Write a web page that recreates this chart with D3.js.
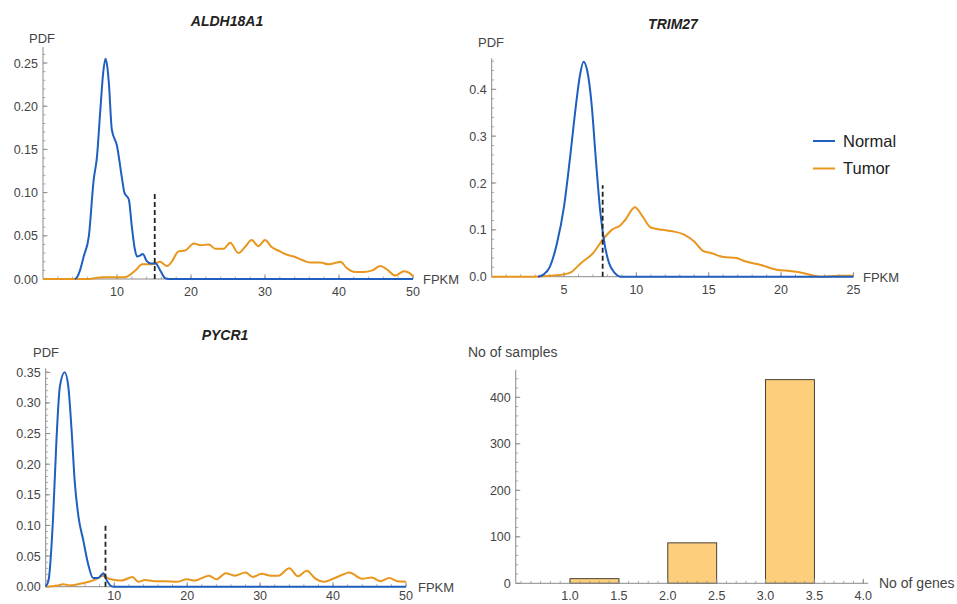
<!DOCTYPE html>
<html><head><meta charset="utf-8">
<script src="https://cdn.jsdelivr.net/npm/d3@7"></script>
<style>body{margin:0;background:#fff}svg{display:block}text{font-family:"Liberation Sans",Arial,sans-serif}</style>
</head><body><svg id="c" width="957" height="604"></svg>
<script>
// ---------- data ----------
const seriesNames = ["Normal", "Tumor"];
const geneTitles = ["ALDH18A1", "TRIM27", "PYCR1"];

const aldhNormal = [[4.3,0],[4.6,0.002],[5.0,0.01],[5.5,0.026],[6.2,0.05],[6.85,0.115],[7.3,0.142],[7.75,0.196],[8.15,0.24],[8.45,0.255],[8.7,0.245],[8.9,0.227],[9.3,0.173],[10,0.154],[10.7,0.115],[11,0.1],[11.6,0.092],[12,0.061],[12.4,0.035],[12.7,0.026],[13.1,0.027],[13.5,0.029],[14,0.021],[14.6,0.018],[15.2,0.018],[15.9,0.009],[16.5,0.001],[17,0],[50,0]];
const aldhTumor = [[0,0],[6,0],[7,0.001],[8,0.002],[10,0.002],[11,0.002],[11.6,0.004],[12.5,0.01],[13.4,0.017],[14.3,0.017],[15.2,0.018],[15.8,0.02],[16.8,0.015],[17.4,0.02],[18.3,0.032],[19.2,0.033],[20.4,0.041],[21.3,0.039],[22.4,0.04],[23.3,0.035],[24.4,0.035],[25.3,0.042],[26.4,0.03],[27.3,0.037],[28.2,0.045],[29.1,0.038],[30,0.045],[30.9,0.037],[32,0.032],[33,0.028],[33.9,0.026],[35,0.022],[36.1,0.019],[37.5,0.019],[38.6,0.017],[39.7,0.019],[40.2,0.02],[41,0.013],[42.2,0.008],[43.3,0.008],[44.5,0.01],[45.6,0.015],[46.5,0.011],[47.6,0.004],[48.8,0.009],[49.5,0.007],[50,0.003]];
const aldhCut = 15.1, aldhCutTop = 0.1;

const trimNormal = [[3.2,0],[3.6,0.005],[4.0,0.02],[4.5,0.07],[5.0,0.15],[5.4,0.25],[5.8,0.36],[6.1,0.43],[6.35,0.459],[6.6,0.44],[6.9,0.37],[7.2,0.25],[7.5,0.14],[7.8,0.07],[8.1,0.03],[8.5,0.008],[8.9,0],[25,0]];
const trimTumor = [[0,0],[3,0],[4,0.002],[5,0.005],[5.5,0.01],[6.2,0.03],[7,0.05],[7.7,0.08],[8.3,0.1],[8.9,0.11],[9.2,0.12],[9.9,0.148],[10.4,0.13],[11,0.105],[11.8,0.1],[12.5,0.097],[13.3,0.09],[14,0.075],[14.6,0.055],[15.2,0.05],[16,0.042],[16.9,0.04],[17.5,0.033],[18.6,0.025],[19.7,0.015],[20.6,0.012],[21.5,0.008],[22.3,0.002],[22.8,0],[24,0.002],[25,0.002]];
const trimCut = 7.67, trimCutTop = 0.195;

const pycrNormal = [[0.6,0],[1.0,0.011],[1.6,0.109],[2.1,0.245],[2.55,0.327],[3.2,0.35],[3.7,0.327],[4.15,0.256],[4.6,0.169],[5.1,0.114],[5.75,0.076],[6.4,0.038],[7.1,0.014],[7.8,0.014],[8.5,0.022],[8.95,0.011],[9.6,0.001],[10,0],[50,0]];
const pycrTumor = [[0.6,0],[2,0.001],[3,0.004],[4,0.002],[5,0.004],[6.5,0.008],[7.5,0.012],[8.4,0.018],[9.5,0.012],[11,0.01],[12.5,0.016],[13.3,0.008],[14.2,0.011],[15.5,0.009],[17,0.009],[18.5,0.008],[20,0.012],[21,0.01],[23,0.018],[24,0.012],[25.3,0.022],[26.5,0.018],[28,0.023],[29,0.016],[30.2,0.021],[31.5,0.018],[32.5,0.018],[34,0.03],[35.2,0.017],[36.4,0.026],[37.5,0.014],[38.8,0.008],[40,0.013],[41.2,0.019],[42.2,0.023],[44,0.013],[45.3,0.015],[46.5,0.009],[47.7,0.014],[48.8,0.009],[50,0.008]];
const pycrCut = 8.8, pycrCutTop = 0.1;

const geneCounts = [1, 2, 3];
const sampleCounts = [10, 87, 438];
const barWidth = 0.5;

const aldhYTicks = [0,0.05,0.10,0.15,0.20,0.25];
const trimYTicks = [0,0.1,0.2,0.3,0.4];
const pycrYTicks = [0,0.05,0.10,0.15,0.20,0.25,0.30,0.35];
const aldhXTicks = [10,20,30,40,50];
const trimXTicks = [5,10,15,20,25];
const pycrXTicks = [10,20,30,40,50];
const barYTicks = [0,100,200,300,400];
const barXTicks = [1.0,1.5,2.0,2.5,3.0,3.5,4.0];

// ---------- drawing ----------
const svg = d3.select("#c");
const BLUE = "#1f5fbf", ORANGE = "#e8961e", AX = "#8a8a8a", LBL = "#444";

function axes(g, x, y, o) {
  const [x0, x1] = o.xExtent, [y0, y1] = o.yExtent;
  const xOff = o.xLblOff || 17;
  const lblSize = o.lblSize || 13;
  d3.range(o.xMinor[0], o.xMinor[1] + 1e-9, o.xMinor[2]).forEach(v => {
    g.append("line").attr("x1", x(v)).attr("x2", x(v)).attr("y1", y(y0)).attr("y2", y(y0) - 2.5).attr("stroke", AX).attr("stroke-width", 0.7);
  });
  d3.range(o.yMinor[0], o.yMinor[1] + 1e-9, o.yMinor[2]).forEach(v => {
    g.append("line").attr("y1", y(v)).attr("y2", y(v)).attr("x1", x(x0)).attr("x2", x(x0) + 2.5).attr("stroke", AX).attr("stroke-width", 0.7);
  });
  g.append("line").attr("x1", x(x0)).attr("x2", x(x1)).attr("y1", y(y0)).attr("y2", y(y0)).attr("stroke", AX).attr("stroke-width", 1);
  g.append("line").attr("x1", x(x0)).attr("x2", x(x0)).attr("y1", y(y0)).attr("y2", y(y1)).attr("stroke", AX).attr("stroke-width", 1);
  o.xTicks.forEach(v => {
    g.append("line").attr("x1", x(v)).attr("x2", x(v)).attr("y1", y(y0)).attr("y2", y(y0) - 4.5).attr("stroke", AX).attr("stroke-width", 1);
    g.append("text").attr("x", x(v)).attr("y", y(y0) + xOff).attr("text-anchor", "middle").attr("font-size", 12.5).attr("fill", LBL).text(o.xFmt(v));
  });
  o.yTicks.forEach(v => {
    g.append("line").attr("y1", y(v)).attr("y2", y(v)).attr("x1", x(x0)).attr("x2", x(x0) + 4.5).attr("stroke", AX).attr("stroke-width", 1);
    g.append("text").attr("x", x(x0) - 5).attr("y", y(v) + 4.5).attr("text-anchor", "end").attr("font-size", 12.5).attr("fill", LBL).text(o.yFmt(v));
  });
  g.append("text").attr("x", o.xLabelPos[0]).attr("y", o.xLabelPos[1]).attr("font-size", lblSize).attr("fill", LBL).text(o.xLabel);
  g.append("text").attr("x", o.yLabelPos[0]).attr("y", o.yLabelPos[1]).attr("font-size", lblSize).attr("fill", LBL).text(o.yLabel);
  if (o.title) g.append("text").attr("x", o.titlePos[0]).attr("y", o.titlePos[1]).attr("text-anchor", "middle")
    .attr("font-size", 14).attr("font-weight", "bold").attr("font-style", "italic").attr("fill", "#222").text(o.title);
}

function densityPanel(o) {
  const g = svg.append("g");
  const x = d3.scaleLinear().domain(o.xDom).range(o.xRange);
  const y = d3.scaleLinear().domain(o.yDom).range(o.yRange);
  axes(g, x, y, o);
  const line = d3.line().x(d => x(d[0])).y(d => y(d[1])).curve(d3.curveMonotoneX);
  g.append("path").attr("d", line(o.tumor)).attr("fill", "none").attr("stroke", ORANGE).attr("stroke-width", 2);
  g.append("path").attr("d", line(o.normal)).attr("fill", "none").attr("stroke", BLUE).attr("stroke-width", 2);
  g.append("line").attr("x1", x(o.cut)).attr("x2", x(o.cut)).attr("y1", y(0)).attr("y2", y(o.cutTop))
    .attr("stroke", "#222").attr("stroke-width", 1.8).attr("stroke-dasharray", "5,3");
  return {x, y};
}

const f2 = d3.format(".2f"), f1 = d3.format(".1f"), fi = d3.format("d");

densityPanel({
  xDom: [0, 50], xRange: [43, 413], yDom: [0, 0.25], yRange: [279, 63],
  xExtent: [0, 50], yExtent: [0, 0.2685],
  xTicks: aldhXTicks, yTicks: aldhYTicks, xFmt: fi, yFmt: f2,
  xMinor: [2, 50, 2], yMinor: [0.01, 0.26, 0.01],
  xLabel: "FPKM", xLabelPos: [423, 284], yLabel: "PDF", yLabelPos: [29, 43],
  title: geneTitles[0], titlePos: [227, 26],
  normal: aldhNormal, tumor: aldhTumor, cut: aldhCut, cutTop: aldhCutTop
});

densityPanel({
  xDom: [0, 25], xRange: [491.7, 853.4], yDom: [0, 0.4], yRange: [276.7, 89.3],
  xExtent: [0, 25], yExtent: [0, 0.466],
  xTicks: trimXTicks, yTicks: trimYTicks, xFmt: fi, yFmt: f1,
  xMinor: [1, 25, 1], yMinor: [0.02, 0.46, 0.02],
  xLabel: "FPKM", xLabelPos: [863, 282], yLabel: "PDF", yLabelPos: [478, 47],
  title: geneTitles[1], titlePos: [673, 29],
  normal: trimNormal, tumor: trimTumor, cut: trimCut, cutTop: trimCutTop
});

densityPanel({
  xDom: [0, 50], xRange: [41.3, 406], yDom: [0, 0.35], yRange: [586.7, 372.3],
  xExtent: [0.6, 50], yExtent: [0, 0.3565],
  xTicks: pycrXTicks, yTicks: pycrYTicks, xFmt: fi, yFmt: f2, xLblOff: 13.5,
  xMinor: [2, 50, 2], yMinor: [0.01, 0.35, 0.01],
  xLabel: "FPKM", xLabelPos: [418, 592], yLabel: "PDF", yLabelPos: [33, 357],
  title: geneTitles[2], titlePos: [225, 340],
  normal: pycrNormal, tumor: pycrTumor, cut: pycrCut, cutTop: pycrCutTop
});

// legend
const lg = svg.append("g");
[BLUE, ORANGE].forEach((c, i) => {
  const yy = 141 + i * 27.5;
  lg.append("line").attr("x1", 813).attr("x2", 835).attr("y1", yy).attr("y2", yy).attr("stroke", c).attr("stroke-width", 2);
  lg.append("text").attr("x", 843).attr("y", yy + 5.5).attr("font-size", 16.5).attr("fill", "#222").text(seriesNames[i]);
});

// bar chart
{
  const g = svg.append("g");
  const x = d3.scaleLinear().domain([1, 4]).range([570, 863.3]);
  const y = d3.scaleLinear().domain([0, 400]).range([583.3, 397.3]);
  const o = {
    xExtent: [0.445, 4.05], yExtent: [0, 459],
    xTicks: barXTicks, yTicks: barYTicks, xFmt: f1, yFmt: fi, xLblOff: 16.5, lblSize: 14,
    xMinor: [0.5, 4.0, 0.1], yMinor: [20, 440, 20],
    xLabel: "No of genes", xLabelPos: [879, 588], yLabel: "No of samples", yLabelPos: [468, 357]
  };
  g.selectAll("rect").data(geneCounts).enter().append("rect")
    .attr("x", d => x(d)).attr("width", d => x(d + barWidth) - x(d))
    .attr("y", (d, i) => y(sampleCounts[i])).attr("height", (d, i) => y(0) - y(sampleCounts[i]))
    .attr("fill", "#fdcf7d").attr("stroke", "#4a4030").attr("stroke-width", 1);
  axes(g, x, y, o);
}
</script></body></html>
